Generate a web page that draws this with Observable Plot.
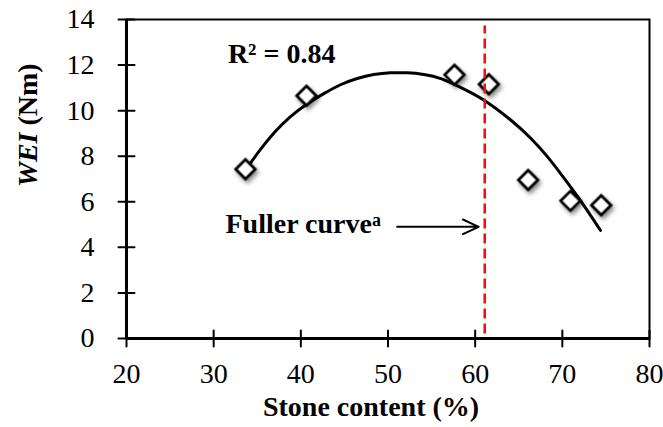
<!DOCTYPE html>
<html>
<head>
<meta charset="utf-8">
<script src="https://cdn.jsdelivr.net/npm/d3@7"></script>
<script src="https://cdn.jsdelivr.net/npm/@observablehq/plot@0.6"></script>
<style>
  html, body { margin: 0; padding: 0; background: #fff; }
  #chart svg { display: block; }
  g[aria-label="dot"] { filter: drop-shadow(2px 3px 2px rgba(0,0,0,0.45)); }
</style>
</head>
<body>
<div id="chart"></div>
<script>
// Measured samples: stone content (%) vs WEI (Nm)
const stoneContent = [33.65, 40.65, 57.63, 61.57, 66.08, 70.93, 74.46];
const wei = [7.43, 10.65, 11.57, 11.16, 6.96, 6.04, 5.85];

// Second-order trend line through the samples
const trendX = [33.85, 35.37, 36.90, 38.81, 40.73, 42.63, 44.55, 46.47, 48.37, 50.29, 52.20, 54.11, 56.02, 58.70, 61.19, 64.43, 66.35, 68.26, 70.17, 72.08, 74.38];
const trendY = [7.50, 8.31, 9.04, 9.77, 10.31, 10.75, 11.16, 11.43, 11.60, 11.67, 11.67, 11.60, 11.45, 10.95, 10.46, 9.50, 8.82, 8.02, 7.05, 6.08, 4.74];

// Stone content of the Fuller gradation
const fullerStone = 61.1;

const xTicks = [20, 30, 40, 50, 60, 70, 80];
const yTicks = [0, 2, 4, 6, 8, 10, 12, 14];

const r2Text = "R² = 0.84";
const fullerText = "Fuller curve";
const xTitle = "Stone content (%)";
const yTitle = "WEI (Nm)";

const points = stoneContent.map((x, i) => ({x, y: wei[i]}));
const trend = trendX.map((x, i) => ({x, y: trendY[i]}));

// straight tick stroke, centred on the axis line
const tickShape = {draw(context, length) { context.moveTo(0, 0); context.lineTo(0, -length); }};

const chart = Plot.plot({
  width: 663,
  height: 427,
  marginLeft: 126,
  marginRight: 14,
  marginTop: 19,
  marginBottom: 89,
  style: {fontFamily: "'Liberation Serif', 'Times New Roman', serif", fontSize: "28px", color: "black", background: "white"},
  x: {domain: [20, 80]},
  y: {domain: [0, 14]},
  marks: [
    // plot border: thin top/right, heavier axis lines
    Plot.frame({stroke: "black", strokeWidth: 2}),
    Plot.ruleX([20], {stroke: "black", strokeWidth: 3}),
    Plot.ruleY([0], {stroke: "black", strokeWidth: 3}),
    // crossing tick marks
    Plot.vector(xTicks, {x: d => d, frameAnchor: "bottom", length: 16, rotate: 0, anchor: "middle", shape: tickShape, stroke: "black", strokeWidth: 2}),
    Plot.vector(yTicks, {y: d => d, frameAnchor: "left", length: 16, rotate: 90, anchor: "middle", shape: tickShape, stroke: "black", strokeWidth: 2}),
    // tick labels
    Plot.axisX({ticks: xTicks, tickSize: 0, tickPadding: 25, label: null}),
    Plot.axisY({ticks: yTicks, tickSize: 0, tickPadding: 32, label: null}),
    // axis titles
    Plot.text([xTitle], {text: d => d, frameAnchor: "bottom", dy: 77, dx: -17, fontWeight: "bold", fontSize: 28}),
    Plot.text([yTitle], {text: d => d, frameAnchor: "left", rotate: -90, dx: -98, dy: 8, fontWeight: "bold", fontSize: 28}),
    // trend line and samples
    Plot.line(trend, {x: "x", y: "y", curve: "basis", stroke: "black", strokeWidth: 3}),
    Plot.dot(points, {x: "x", y: "y", symbol: "diamond2", r: 8.8, stroke: "black", strokeWidth: 2.8, fill: "white"}),
    // Fuller curve marker
    Plot.ruleX([fullerStone], {y1: 0.2, y2: 13.72, stroke: "#f01010", strokeWidth: 2.6, strokeDasharray: "10,5"}),
    Plot.arrow([fullerStone], {x1: 51.05, x2: d => d - 0.7, y1: 4.9, y2: 4.9, stroke: "black", strokeWidth: 2, headLength: 13, headAngle: 50}),
    Plot.text([fullerText], {text: d => d, x: 31.36, y: 5.01, textAnchor: "start", fontWeight: "bold", fontSize: 28}),
    Plot.text([r2Text], {text: d => d, x: 37.8, y: 12.49, fontWeight: "bold", fontSize: 28})
  ]
});

// mixed styles inside the titles
d3.select(chart).selectAll("text").each(function() {
  const t = this.textContent;
  if (t === yTitle) {
    this.innerHTML = '<tspan font-style="italic">WEI</tspan> (Nm)';
  } else if (t === fullerText) {
    this.innerHTML = 'Fuller curve<tspan dy="-7" font-size="18">a</tspan>';
  }
});

document.getElementById("chart").appendChild(chart);
</script>
</body>
</html>
